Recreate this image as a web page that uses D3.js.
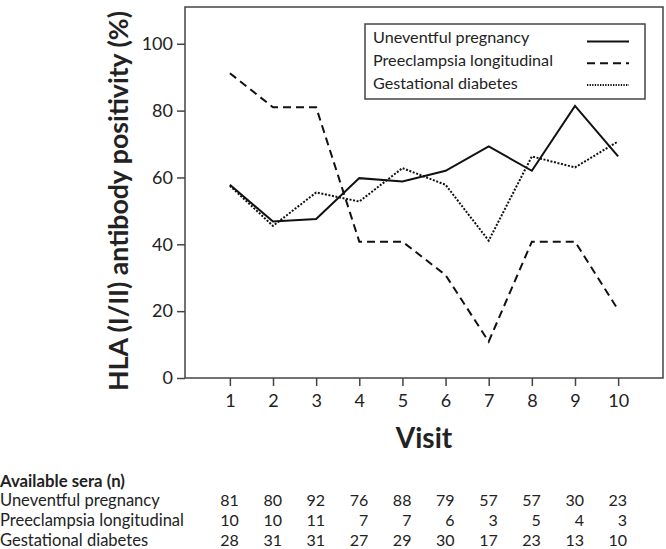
<!DOCTYPE html>
<html>
<head>
<meta charset="utf-8">
<script src="https://cdn.jsdelivr.net/npm/d3@7"></script>
<style>
  html, body { margin: 0; padding: 0; background: #fff; }
  svg { display: block; }
  text { font-family: Lato, "Open Sans", sans-serif; fill: #222; }
</style>
</head>
<body>
<svg id="chart" width="666" height="549"></svg>
<script>
// ---- data ----
const visits = [1, 2, 3, 4, 5, 6, 7, 8, 9, 10];
const seriesNames = ["Uneventful pregnancy", "Preeclampsia longitudinal", "Gestational diabetes"];
const uneventful = [57.8, 46.8, 47.6, 59.8, 58.8, 62.0, 69.3, 62.0, 81.4, 66.3];
const preeclampsia = [91.2, 81.0, 81.0, 40.8, 40.8, 30.8, 10.9, 40.8, 40.8, 20.4];
const gestational = [57.5, 45.5, 55.5, 52.8, 62.8, 57.8, 41.1, 66.3, 63.0, 70.8];
const yTicks = [0, 20, 40, 60, 80, 100];
const seraTitle = "Available sera (n)";
const seraUneventful = [81, 80, 92, 76, 88, 79, 57, 57, 30, 23];
const seraPreeclampsia = [10, 10, 11, 7, 7, 6, 3, 5, 4, 3];
const seraGestational = [28, 31, 31, 27, 29, 30, 17, 23, 13, 10];
const yTitle = "HLA (I/II) antibody positivity (%)";
const xTitle = "Visit";

// ---- layout ----
const plot = { left: 185, top: 7, right: 663, bottom: 378 };
const svg = d3.select("#chart");

const x = d3.scaleLinear().domain([-0.04, 11.04]).range([plot.left, plot.right]);
const y = d3.scaleLinear().domain([0, 111]).range([plot.bottom, plot.top]);

const axisColor = "#444";

// frame
svg.append("rect")
  .attr("x", plot.left).attr("y", plot.top)
  .attr("width", plot.right - plot.left).attr("height", plot.bottom - plot.top)
  .attr("fill", "none").attr("stroke", axisColor).attr("stroke-width", 1.5);

// y axis
const yAxis = svg.append("g").attr("transform", `translate(${plot.left},0)`)
  .call(d3.axisLeft(y).tickValues(yTicks).tickSize(8).tickPadding(4));
yAxis.select(".domain").remove();
yAxis.selectAll("line").attr("stroke", axisColor).attr("stroke-width", 1.5);
yAxis.selectAll("text").style("font-family", "Lato, sans-serif").style("font-size", "18px").attr("fill", "#2a2a2a");

// x axis
const xAxis = svg.append("g").attr("transform", `translate(0,${plot.bottom})`)
  .call(d3.axisBottom(x).tickValues(visits).tickSize(8).tickPadding(8).tickFormat(d3.format("d")));
xAxis.select(".domain").remove();
xAxis.selectAll("line").attr("stroke", axisColor).attr("stroke-width", 1.5);
xAxis.selectAll("text").style("font-family", "Lato, sans-serif").style("font-size", "18px").attr("fill", "#2a2a2a");

// titles
svg.append("text")
  .attr("x", (plot.left + plot.right) / 2).attr("y", 448)
  .attr("text-anchor", "middle")
  .style("font-size", "28px").style("font-weight", "bold").attr("fill", "#000")
  .text(xTitle);

const yt = svg.append("text")
  .attr("transform", `translate(128,${(10 + 392) / 2}) rotate(-90)`)
  .attr("text-anchor", "middle")
  .style("font-size", "26px").style("font-weight", "bold").attr("fill", "#000")
  .text(yTitle);
(function () {
  const target = 380;
  const len = yt.node().getComputedTextLength();
  yt.style("font-size", (26 * target / len).toFixed(2) + "px");
})();

// lines
const line = d3.line().x((d, i) => x(visits[i])).y(d => y(d));
const styles = [
  { data: uneventful, dash: null, legendDash: null },
  { data: preeclampsia, dash: "8,5", legendDash: "8,5" },
  { data: gestational, dash: "2,1.6", legendDash: "1.3,1.3" }
];
styles.forEach(s => {
  svg.append("path")
    .datum(s.data)
    .attr("d", line)
    .attr("fill", "none")
    .attr("stroke", "#111")
    .attr("stroke-width", 2)
    .attr("stroke-dasharray", s.dash);
});

// legend
const lg = svg.append("g");
lg.append("rect").attr("x", 365).attr("y", 24).attr("width", 280).attr("height", 75)
  .attr("fill", "#fff").attr("stroke", axisColor).attr("stroke-width", 1.5);
const legTexts = [];
seriesNames.forEach((name, i) => {
  const t = lg.append("text").attr("x", 373).attr("y", 43 + i * 22.8)
    .style("font-size", "15px").text(name);
  legTexts.push(t);
  lg.append("line")
    .attr("x1", 587).attr("x2", 629)
    .attr("y1", 41.5 + i * 21.7).attr("y2", 41.5 + i * 21.7)
    .attr("stroke", "#111").attr("stroke-width", 2)
    .attr("stroke-dasharray", styles[i].legendDash);
});
(function () {
  const len = legTexts[1].node().getComputedTextLength();
  const fs = 15 * 180 / len;
  legTexts.forEach(t => t.style("font-size", fs.toFixed(2) + "px"));
})();

// table
const tbl = svg.append("g");
const head = tbl.append("text").attr("x", 0).attr("y", 487)
  .style("font-size", "15px").style("font-weight", "bold").attr("fill", "#000")
  .text(seraTitle);
(function () {
  const len = head.node().getComputedTextLength();
  head.style("font-size", (15 * 125 / len).toFixed(2) + "px");
})();
const rows = [seraUneventful, seraPreeclampsia, seraGestational];
const rowLabels = [];
rows.forEach((vals, r) => {
  const yy = 506 + r * 20;
  rowLabels.push(tbl.append("text").attr("x", 0).attr("y", yy).style("font-size", "15px").text(seriesNames[r]));
  vals.forEach((v, i) => {
    tbl.append("text").attr("x", x(visits[i]) + 9).attr("y", yy)
      .attr("text-anchor", "end").style("font-size", "16px").text(v);
  });
});
(function () {
  const len = rowLabels[1].node().getComputedTextLength();
  const fs = 15 * 184 / len;
  rowLabels.forEach(t => t.style("font-size", fs.toFixed(2) + "px"));
})();
</script>
</body>
</html>
